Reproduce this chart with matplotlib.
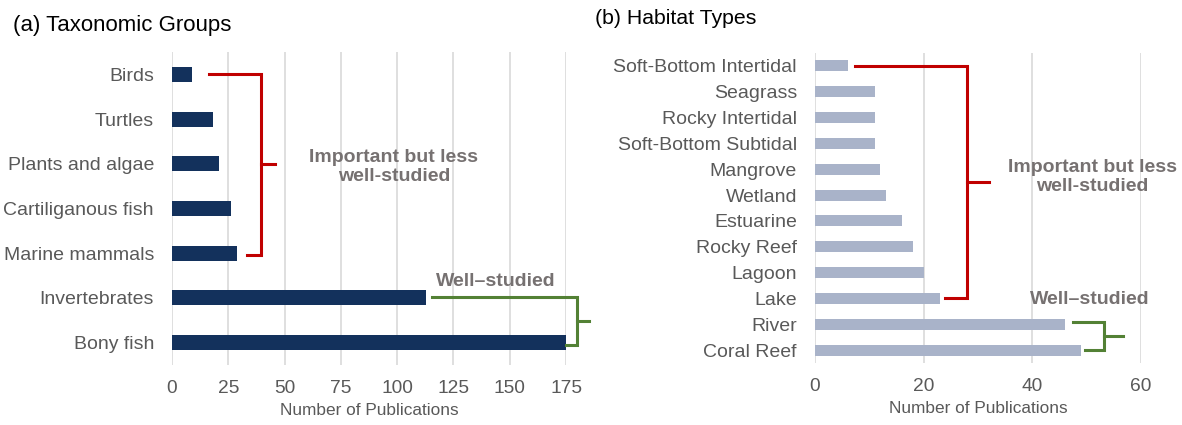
import matplotlib
matplotlib.use("Agg")
import matplotlib.pyplot as plt

plt.rcParams['font.family'] = ['Liberation Sans', 'DejaVu Sans']

# ---- data ----
taxa = ["Bony fish", "Invertebrates", "Marine mammals", "Cartiliganous fish",
        "Plants and algae", "Turtles", "Birds"]
taxa_pubs = [175, 113, 29, 26, 21, 18, 9]

habitats = ["Coral Reef", "River", "Lake", "Lagoon", "Rocky Reef", "Estuarine",
            "Wetland", "Mangrove", "Soft-Bottom Subtidal", "Rocky Intertidal",
            "Seagrass", "Soft-Bottom Intertidal"]
habitat_pubs = [49, 46, 23, 20, 18, 16, 13, 12, 11, 11, 11, 6]

left_ticks = [0, 25, 50, 75, 100, 125, 150, 175]
right_ticks = [0, 20, 40, 60]

NAVY = "#13315C"
LIGHT = "#A9B3C9"
RED = "#C00000"
GREEN = "#538135"
TXT = "#767171"
TICK = "#595959"
GRID = "#D9D9D9"

fig = plt.figure(figsize=(11.82, 4.25), dpi=100)
axL = fig.add_axes([172/1182, 60/425, 394/1182, 313/425])
axR = fig.add_axes([815/1182, 62/425, 325.7/1182, 310/425])


def style(ax, ticks, xmax, n):
    ax.set_xlim(0, xmax)
    ax.set_ylim(-0.5, n - 0.5)
    ax.set_xticks(ticks)
    for s in ax.spines.values():
        s.set_visible(False)
    ax.grid(axis='x', color=GRID, linewidth=1.2)
    ax.set_axisbelow(True)
    ax.tick_params(axis='both', length=0, labelsize=13.8, colors=TICK)
    ax.tick_params(axis='y', pad=13, labelsize=14)
    ax.tick_params(axis='x', pad=11)
    ax.set_xlabel("Number of Publications", fontsize=12.4, color=TICK, labelpad=4)


# ---- left panel ----
yL = list(range(len(taxa)))
axL.barh(yL, taxa_pubs, height=0.335, color=NAVY)
axL.set_yticks(yL)
axL.set_yticklabels(taxa)
style(axL, left_ticks, 175, len(taxa))

# red bracket (less studied)
axL.plot([16.4, 39.4, 39.4, 33.2], [6, 6, 1.97, 1.97], color=RED, lw=2.2,
         clip_on=False, solid_joinstyle='miter')
axL.plot([39.4, 45.8], [4.0, 4.0], color=RED, lw=2.2, clip_on=False)
axL.text(98.5, 3.92, "Important but less\nwell-studied", ha='center', va='center',
         fontsize=14, fontweight='bold', color=TXT, linespacing=1.15)
# green bracket (well-studied)
axL.plot([115.4, 180, 180, 175], [1.03, 1.03, -0.05, -0.05], color=GREEN, lw=2.2,
         clip_on=False, solid_joinstyle='miter')
axL.plot([180, 185.4], [0.49, 0.49], color=GREEN, lw=2.2, clip_on=False)
axL.text(143.6, 1.37, "Well\u2013studied", ha='center', va='center',
         fontsize=14, fontweight='bold', color=TXT)

# ---- right panel ----
yR = list(range(len(habitats)))
axR.barh(yR, habitat_pubs, height=0.42, color=LIGHT)
axR.set_yticks(yR)
axR.set_yticklabels(habitats)
style(axR, right_ticks, 60, len(habitats))

axR.plot([7.4, 28, 28, 23.9], [11, 11, 2, 2], color=RED, lw=2.2,
         clip_on=False, solid_joinstyle='miter')
axR.plot([28, 32], [6.5, 6.5], color=RED, lw=2.2, clip_on=False)
axR.text(51.1, 6.71, "Important but less\nwell-studied", ha='center', va='center',
         fontsize=14, fontweight='bold', color=TXT, linespacing=1.15, clip_on=False)
axR.plot([47.5, 53.2, 53.2, 49.7], [1.1, 1.1, 0.0, 0.0], color=GREEN, lw=2.2,
         clip_on=False, solid_joinstyle='miter')
axR.plot([53.2, 56.7], [0.55, 0.55], color=GREEN, lw=2.2, clip_on=False)
axR.text(50.6, 1.95, "Well\u2013studied", ha='center', va='center',
         fontsize=14, fontweight='bold', color=TXT)

# ---- panel titles ----
fig.text(13/1182, 1 - 25/425, "(a) Taxonomic Groups", ha='left', va='center',
         fontsize=16, color='black')
fig.text(595/1182, 1 - 18/425, "(b) Habitat Types", ha='left', va='center',
         fontsize=15.3, color='black')

fig.savefig("out.png", dpi=100)
